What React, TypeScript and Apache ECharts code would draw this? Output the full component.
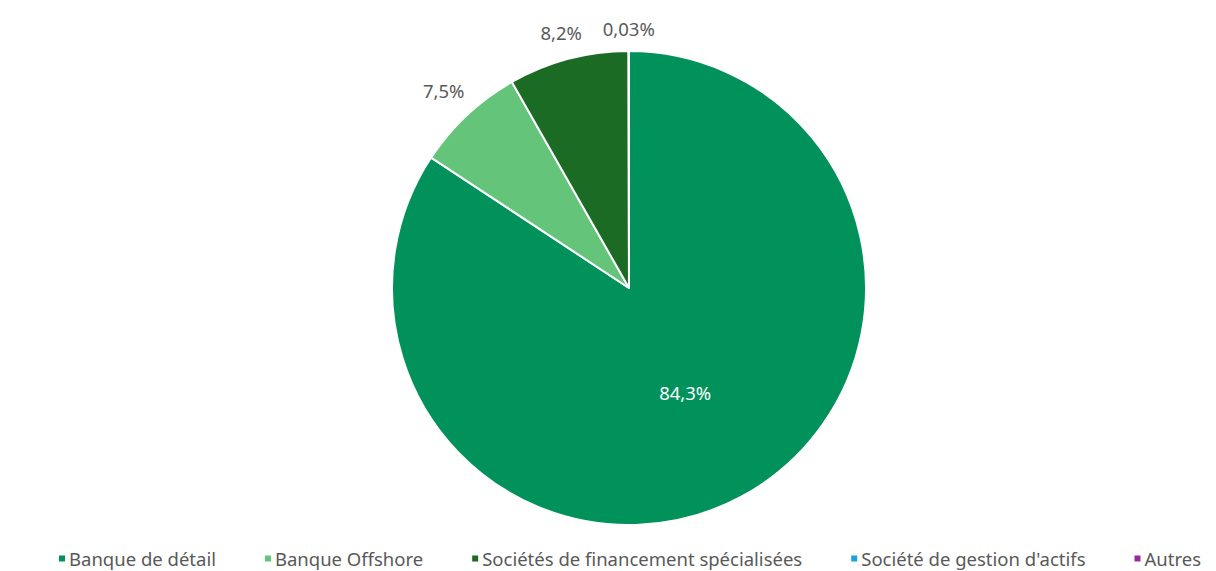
import React, { useEffect, useRef } from "react";
import * as echarts from "echarts";

const categories = [
  "Banque de détail",
  "Banque Offshore",
  "Sociétés de financement spécialisées",
  "Société de gestion d'actifs",
  "Autres",
];
const values = [84.3, 7.5, 8.2, 0.03, 0];
const colors = ["#00925A", "#64C47A", "#1C6B24", "#1BA1DC", "#9B2A96"];

const CX = 629;
const CY = 288;
const R = 237;
const GAP = 13;

function fmt(v: number) {
  return String(v).replace(".", ",") + "%";
}

export default function App() {
  const ref = useRef<HTMLDivElement>(null);
  useEffect(() => {
    if (!ref.current) return;
    const chart = echarts.init(ref.current, undefined, { renderer: "svg" });
    const total = values.reduce((a, b) => a + b, 0);
    const starts: number[] = [];
    let acc = 0;
    values.forEach((v) => {
      starts.push(acc);
      acc += v;
    });
    const font = "'Noto Sans', 'Open Sans', sans-serif";
    chart.setOption({
      animation: false,
      color: colors,
      legend: {
        top: 549,
        left: 57,
        padding: 0,
        itemWidth: 8,
        itemHeight: 8,
        itemGap: 47,
        icon: "rect",
        textStyle: { color: "#595959", fontSize: 18.5, fontFamily: font, padding: [0, 0, 0, -2] },
        data: categories,
      },
      series: [
        {
          type: "pie",
          center: [CX, CY],
          radius: R,
          startAngle: 90,
          clockwise: true,
          avoidLabelOverlap: false,
          itemStyle: { borderColor: "#ffffff", borderWidth: 2 },
          label: {
            show: true,
            position: "outside",
            color: "#595959",
            fontSize: 18.5,
            fontFamily: font,
            formatter: (p: any) => fmt(p.value),
          },
          labelLine: { show: false },
          labelLayout: (p: any) => {
            const i = p.dataIndex;
            const mid = ((starts[i] + values[i] / 2) / total) * Math.PI * 2;
            const dx = Math.sin(mid);
            const dy = -Math.cos(mid);
            const w = p.labelRect.width;
            const h = p.labelRect.height;
            const rho =
              i === 0 ? R * 0.5 : R + GAP + (Math.abs(dx) * w) / 2 + (Math.abs(dy) * h) / 2;
            return {
              x: CX + rho * dx,
              y: CY + rho * dy,
              align: "center",
              verticalAlign: "middle",
            };
          },
          data: categories.map((name, i) => ({
            name,
            value: values[i],
            label:
              i === 0
                ? { color: "#ffffff" }
                : values[i] === 0
                ? { show: false }
                : {},
          })),
        },
      ],
    });
    return () => chart.dispose();
  }, []);
  return (
    <div
      ref={ref}
      style={{ position: "absolute", left: 0, top: 0, width: 1216, height: 571, background: "#fff" }}
    />
  );
}
